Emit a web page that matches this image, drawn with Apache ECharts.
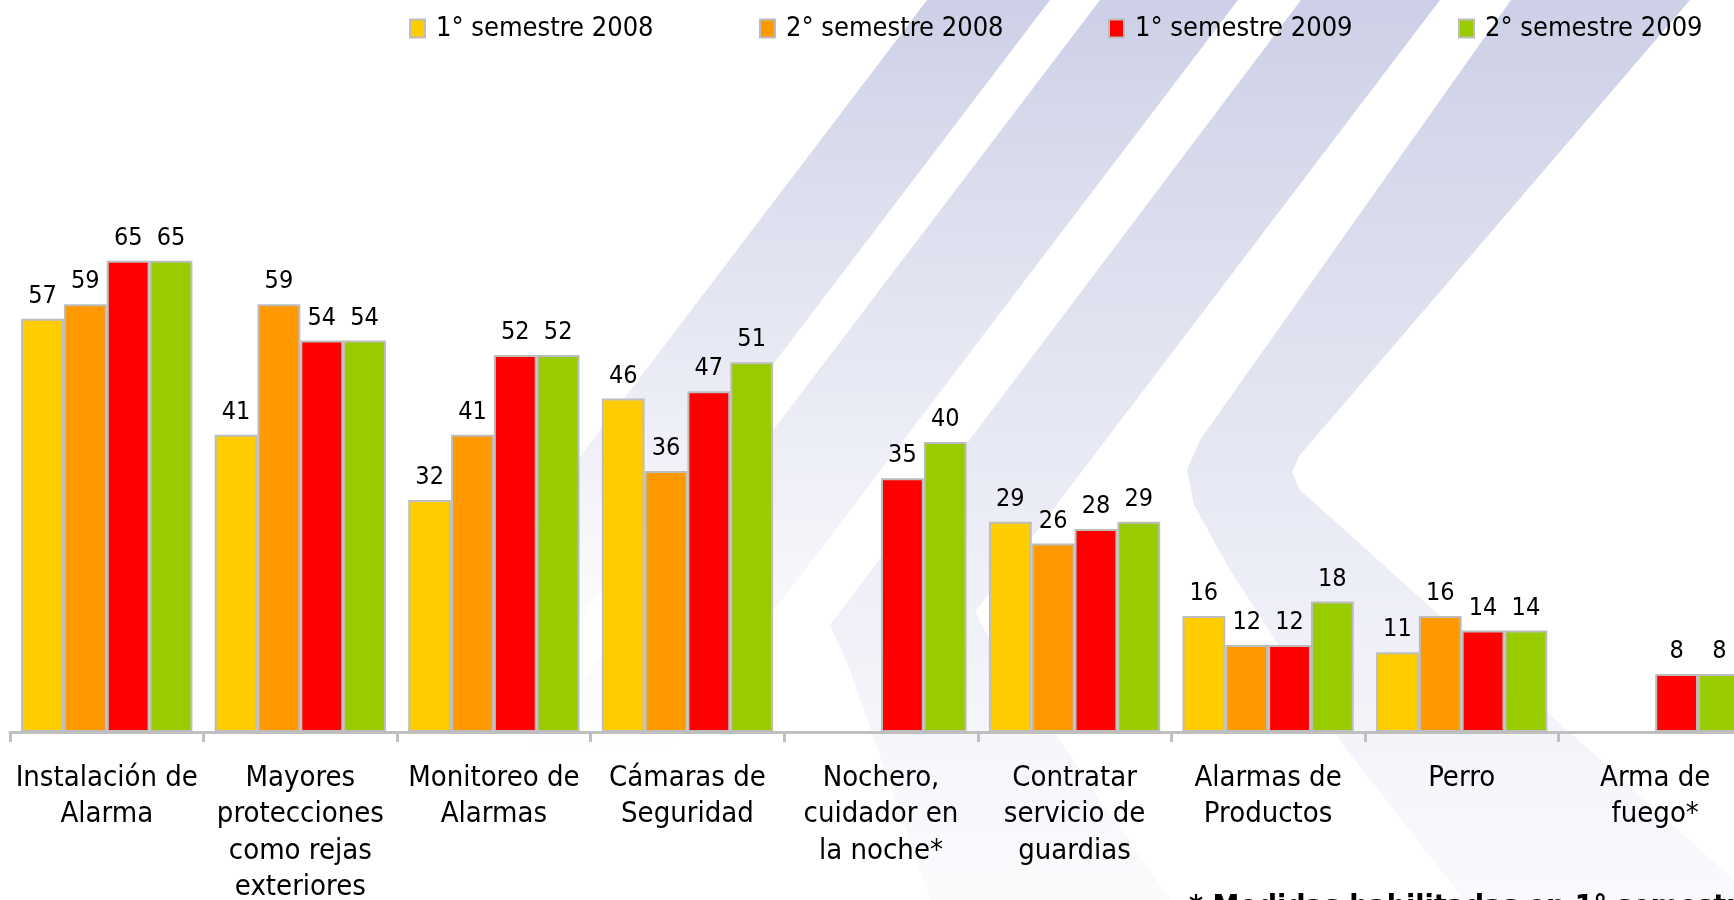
<!DOCTYPE html>
<html>
<head>
<meta charset="utf-8">
<script src="https://cdn.jsdelivr.net/npm/echarts@6/dist/echarts.min.js"></script>
<style>
  html, body { margin: 0; padding: 0; background: #fff; overflow: hidden; }
  #chart { width: 1752px; height: 900px; }
</style>
</head>
<body>
<div id="chart"></div>
<script>
var categories = [
    'Instalación de\nAlarma',
    'Mayores\nprotecciones\ncomo rejas\nexteriores',
    'Monitoreo de\nAlarmas',
    'Cámaras de\nSeguridad',
    'Nochero,\ncuidador en\nla noche*',
    'Contratar\nservicio de\nguardias',
    'Alarmas de\nProductos',
    'Perro',
    'Arma de\nfuego*'
];
var sem1_2008 = [57, 41, 32, 46, null, 29, 16, 11, null];
var sem2_2008 = [59, 59, 41, 36, null, 26, 12, 16, null];
var sem1_2009 = [65, 54, 52, 47, 35, 28, 12, 14, 8];
var sem2_2009 = [65, 54, 52, 51, 40, 29, 18, 14, 8];

var seriesNames = ['1° semestre 2008', '2° semestre 2008', '1° semestre 2009', '2° semestre 2009'];
var seriesData = [sem1_2008, sem2_2008, sem1_2009, sem2_2009];
var colors = ['#FFCC00', '#FF9900', '#FF0000', '#99CC00'];
var legendLeft = [409, 759, 1108, 1458];

var FONT = 'DejaVu Sans Condensed, DejaVu Sans, sans-serif';

// faint watermark stripes behind the chart
function band(points, mid, end) {
    return {
        type: 'polygon',
        z: -10,
        silent: true,
        shape: { points: points },
        style: {
            fill: {
                type: 'linear', x: 0, y: 0, x2: 0, y2: 1,
                colorStops: [
                    { offset: 0, color: 'rgba(196,199,226,0.85)' },
                    { offset: 0.5, color: 'rgba(208,211,233,' + mid + ')' },
                    { offset: 1, color: 'rgba(226,228,243,' + end + ')' }
                ]
            }
        }
    };
}

var graphics = [
    band([[927, 0], [1050, 0], [518, 700], [395, 700]], 0.5, 0),
    band([[1100, 0], [1238, 0], [668, 750], [530, 750]], 0.5, 0.03),
    band([[1301, 0], [1440, 0], [975, 612], [990, 640], [1170, 900], [930, 900],
          [850, 670], [830, 625]], 0.5, 0.15),
    band([[1511, 0], [1690, 0], [1300, 455], [1292, 472], [1300, 490], [1734, 880],
          [1734, 900], [1464, 900], [1343, 745], [1230, 570], [1194, 505], [1187, 470],
          [1200, 440]], 0.55, 0.2),
    {
        type: 'text',
        left: 1189,
        top: 893,
        z: 10,
        style: {
            text: '* Medidas habilitadas en 1° semestre 2009',
            font: 'bold 30px ' + FONT,
            fill: '#000'
        }
    }
];

var series = [];
var legends = [];
for (var i = 0; i < 4; i++) {
    series.push({
        name: seriesNames[i],
        type: 'bar',
        data: seriesData[i],
        barGap: '0%',
        barCategoryGap: '11.5%',
        itemStyle: { color: colors[i], borderColor: '#BDBDBD', borderWidth: 2 },
        label: {
            show: true,
            position: 'top',
            distance: 10,
            color: '#000',
            fontSize: 25,
            fontFamily: FONT
        }
    });
    legends.push({
        data: [seriesNames[i]],
        icon: 'rect',
        left: legendLeft[i],
        top: 15,
        padding: 0,
        itemWidth: 15,
        itemHeight: 18,
        textStyle: {
            fontSize: 27,
            color: '#000',
            fontFamily: FONT,
            padding: [0, 0, 0, 6]
        }
    });
}

var option = {
    backgroundColor: '#fff',
    animation: false,
    graphic: graphics,
    legend: legends,
    grid: { left: 10, right: 0, top: 152, bottom: 168, outerBoundsMode: 'none' },
    xAxis: {
        type: 'category',
        data: categories,
        axisLine: { lineStyle: { color: '#BFBFBF', width: 3 } },
        axisTick: { show: true, length: 10, lineStyle: { color: '#BFBFBF', width: 3 } },
        axisLabel: {
            interval: 0,
            margin: 28,
            color: '#000',
            fontSize: 29,
            lineHeight: 36.5,
            fontFamily: FONT
        }
    },
    yAxis: {
        type: 'value',
        min: 0,
        max: 80,
        show: false
    },
    series: series
};

var myChart = echarts.init(document.getElementById('chart'));
myChart.setOption(option);
</script>
</body>
</html>
